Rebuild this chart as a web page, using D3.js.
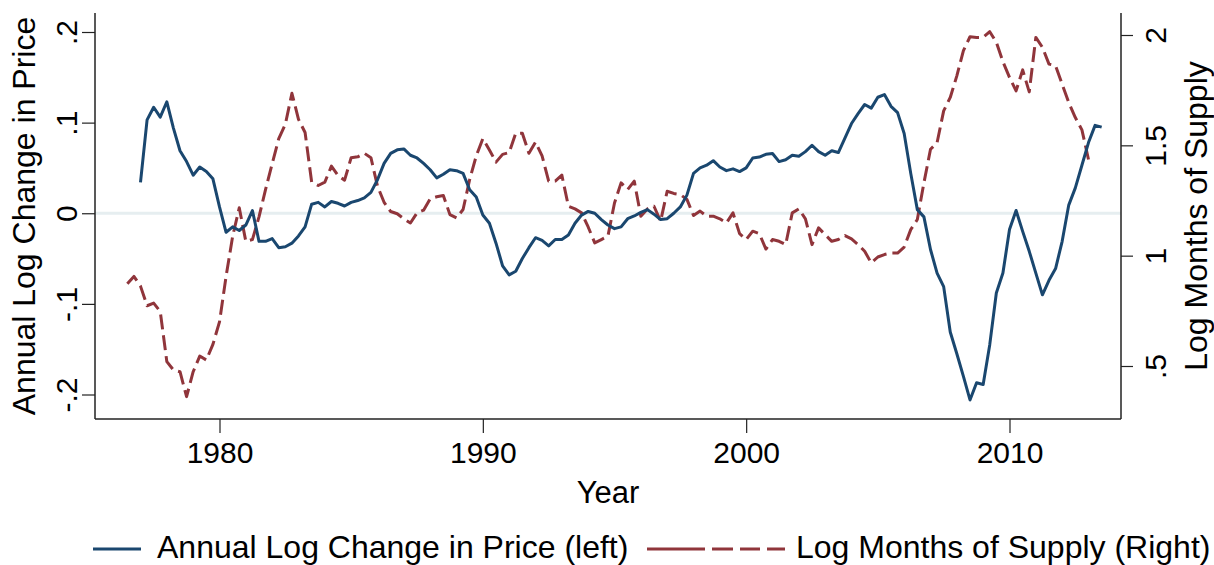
<!DOCTYPE html>
<html>
<head>
<meta charset="utf-8">
<script src="https://cdn.jsdelivr.net/npm/d3@7"></script>
<style>
  html, body { margin: 0; padding: 0; background: #fff; }
  svg { display: block; font-family: "Liberation Sans", Arial, sans-serif; }
</style>
</head>
<body>
<svg id="chart" width="1214" height="565"></svg>
<script>
// ---- Data (quarterly) ----
const priceStartYear = 1977.0;   // first quarter of the price series
const supplyStartYear = 1976.5;  // first quarter of the supply series

const priceChange = [
  0.034, 0.103, 0.117, 0.106,
  0.123, 0.094, 0.069, 0.057,
  0.042, 0.051, 0.046, 0.038,
  0.007, -0.021, -0.015, -0.019,
  -0.013, 0.003, -0.031, -0.031,
  -0.028, -0.038, -0.037, -0.033,
  -0.025, -0.015, 0.010, 0.012,
  0.007, 0.013, 0.011, 0.008,
  0.012, 0.014, 0.017, 0.023,
  0.037, 0.055, 0.066, 0.070,
  0.071, 0.064, 0.061, 0.055,
  0.048, 0.039, 0.043, 0.048,
  0.047, 0.044, 0.026, 0.018,
  -0.002, -0.011, -0.033, -0.058,
  -0.068, -0.064, -0.050, -0.038,
  -0.027, -0.030, -0.036, -0.029,
  -0.029, -0.024, -0.011, -0.002,
  0.002, 0.000, -0.007, -0.013,
  -0.017, -0.015, -0.006, -0.003,
  0.001, 0.004, -0.001, -0.007,
  -0.006, 0.000, 0.007, 0.020,
  0.044, 0.050, 0.053, 0.058,
  0.051, 0.047, 0.049, 0.046,
  0.050, 0.061, 0.062, 0.065,
  0.066, 0.057, 0.059, 0.064,
  0.063, 0.068, 0.075, 0.068,
  0.064, 0.069, 0.067, 0.083,
  0.099, 0.110, 0.120, 0.116,
  0.128, 0.131, 0.118, 0.111,
  0.088, 0.044, 0.004, -0.004,
  -0.040, -0.066, -0.081, -0.131,
  -0.155, -0.180, -0.206, -0.187,
  -0.189, -0.145, -0.088, -0.066,
  -0.018, 0.003, -0.020, -0.042,
  -0.066, -0.090, -0.074, -0.061,
  -0.031, 0.009, 0.028, 0.053,
  0.078, 0.097, 0.095
];

const logMonthsSupply = [
  0.873, 0.906,
  0.862, 0.773, 0.785, 0.747,
  0.520, 0.482, 0.474, 0.361,
  0.474, 0.545, 0.527, 0.598,
  0.700, 0.906, 1.088, 1.217,
  1.065, 1.073, 1.176, 1.300,
  1.417, 1.530, 1.595, 1.736,
  1.618, 1.558, 1.333, 1.318,
  1.333, 1.406, 1.364, 1.342,
  1.444, 1.448, 1.464, 1.444,
  1.315, 1.242, 1.200, 1.190,
  1.167, 1.148, 1.194, 1.206,
  1.258, 1.267, 1.273, 1.186,
  1.171, 1.209, 1.345, 1.452,
  1.530, 1.479, 1.424, 1.459,
  1.467, 1.555, 1.555, 1.464,
  1.515, 1.452, 1.338, 1.338,
  1.365, 1.224, 1.212, 1.194,
  1.130, 1.058, 1.073, 1.088,
  1.239, 1.330, 1.300, 1.338,
  1.179, 1.212, 1.224, 1.156,
  1.292, 1.282, 1.277, 1.255,
  1.182, 1.202, 1.179, 1.179,
  1.167, 1.148, 1.194, 1.100,
  1.073, 1.111, 1.100, 1.030,
  1.073, 1.065, 1.050, 1.194,
  1.212, 1.167, 1.050, 1.126,
  1.095, 1.065, 1.073, 1.091,
  1.076, 1.050, 1.020, 0.967,
  0.994, 1.005, 1.012, 1.012,
  1.039, 1.118, 1.164, 1.330,
  1.482, 1.512, 1.656, 1.717,
  1.815, 1.929, 1.992, 1.989,
  1.989, 2.015, 1.967, 1.879,
  1.808, 1.747, 1.842, 1.742,
  1.989, 1.944, 1.868, 1.861,
  1.777, 1.694, 1.626, 1.570,
  1.436
];

const xTickValues = [1980, 1990, 2000, 2010];
const xTickLabels = ["1980", "1990", "2000", "2010"];
const leftTickValues = [-0.2, -0.1, 0, 0.1, 0.2];
const leftTickLabels = ["-.2", "-.1", "0", ".1", ".2"];
const rightTickValues = [0.5, 1, 1.5, 2];
const rightTickLabels = [".5", "1", "1.5", "2"];
const seriesNames = ["Annual Log Change in Price (left)", "Log Months of Supply (Right)"];
const axisTitles = { x: "Year", left: "Annual Log Change in Price", right: "Log Months of Supply" };

// ---- Layout ----
const plotLeft = 95, plotRight = 1121, plotTop = 13, plotBottom = 419;
const BLUE = "#1a476f", RED = "#90353b";

const svg = d3.select("#chart");

const x = d3.scaleLinear().domain([1980, 2010]).range([219.5, 1009.5]);
const yL = d3.scaleLinear().domain([-0.2, 0.2]).range([394.5, 32]);
const yR = d3.scaleLinear().domain([0.5, 2]).range([366, 35]);

const priceData = priceChange.map((v, i) => ({ t: priceStartYear + i / 4, v }));
const supplyData = logMonthsSupply.map((v, i) => ({ t: supplyStartYear + i / 4, v }));

// zero reference line
svg.append("line")
  .attr("x1", plotLeft).attr("x2", plotRight)
  .attr("y1", yL(0)).attr("y2", yL(0))
  .attr("stroke", "#e6eef0").attr("stroke-width", 3);

// lines
const linePrice = d3.line().x(d => x(d.t)).y(d => yL(d.v));
const lineSupply = d3.line().x(d => x(d.t)).y(d => yR(d.v));

svg.append("path").datum(supplyData)
  .attr("d", lineSupply)
  .attr("fill", "none").attr("stroke", RED).attr("stroke-width", 3)
  .attr("stroke-dasharray", "15,6").attr("stroke-linejoin", "round");

svg.append("path").datum(priceData)
  .attr("d", linePrice)
  .attr("fill", "none").attr("stroke", BLUE).attr("stroke-width", 3)
  .attr("stroke-linejoin", "round");

// axes
const axisColor = "#222";
function styleAxis(g) {
  g.select(".domain").remove();
  g.selectAll(".tick line").attr("stroke", axisColor).attr("stroke-width", 1.2);
  g.selectAll(".tick text").attr("fill", "#000").attr("font-size", 30)
    .attr("font-family", "Liberation Sans, Arial, sans-serif");
}

const gx = svg.append("g").attr("transform", `translate(0,${plotBottom})`)
  .call(d3.axisBottom(x).tickValues(xTickValues).tickSize(14)
    .tickFormat((d, i) => xTickLabels[i]));
styleAxis(gx);
gx.selectAll(".tick text").attr("y", 44).attr("dy", 0);

const gl = svg.append("g").attr("transform", `translate(${plotLeft},0)`)
  .call(d3.axisLeft(yL).tickValues(leftTickValues).tickSize(13)
    .tickFormat((d, i) => leftTickLabels[i]));
styleAxis(gl);
gl.selectAll(".tick text").attr("x", null).attr("dy", null)
  .attr("text-anchor", "middle").attr("transform", "translate(-18,0) rotate(-90)");

const gr = svg.append("g").attr("transform", `translate(${plotRight},0)`)
  .call(d3.axisRight(yR).tickValues(rightTickValues).tickSize(12)
    .tickFormat((d, i) => rightTickLabels[i]));
styleAxis(gr);
gr.selectAll(".tick text").attr("x", null).attr("dy", null)
  .attr("text-anchor", "middle").attr("transform", "translate(45,0) rotate(-90)");

// axis lines
svg.append("line").attr("x1", plotLeft).attr("x2", plotLeft).attr("y1", plotTop).attr("y2", plotBottom)
  .attr("stroke", axisColor).attr("stroke-width", 1.5);
svg.append("line").attr("x1", plotRight).attr("x2", plotRight).attr("y1", plotTop).attr("y2", plotBottom)
  .attr("stroke", axisColor).attr("stroke-width", 1.5);
svg.append("line").attr("x1", plotLeft).attr("x2", plotRight).attr("y1", plotBottom).attr("y2", plotBottom)
  .attr("stroke", axisColor).attr("stroke-width", 1.5);

// axis titles
const midY = (plotTop + plotBottom) / 2;
svg.append("text").text(axisTitles.x)
  .attr("x", (plotLeft + plotRight) / 2).attr("y", 503)
  .attr("text-anchor", "middle").attr("font-size", 31).attr("fill", "#000");
svg.append("text").text(axisTitles.left)
  .attr("text-anchor", "middle").attr("font-size", 32).attr("fill", "#000")
  .attr("transform", `translate(35,${midY}) rotate(-90)`);
svg.append("text").text(axisTitles.right)
  .attr("text-anchor", "middle").attr("font-size", 32).attr("fill", "#000")
  .attr("transform", `translate(1207,${midY}) rotate(-90)`);

// legend
const legY = 549, legTextY = 558;
svg.append("line").attr("x1", 93).attr("x2", 141).attr("y1", legY).attr("y2", legY)
  .attr("stroke", BLUE).attr("stroke-width", 3);
svg.append("text").text(seriesNames[0]).attr("x", 157).attr("y", legTextY)
  .attr("font-size", 32).attr("fill", "#000");
svg.append("line").attr("x1", 647).attr("x2", 785).attr("y1", legY).attr("y2", legY)
  .attr("stroke", RED).attr("stroke-width", 3)
  .attr("stroke-dasharray", "58,7,21,7,20,7,18,7");
svg.append("text").text(seriesNames[1]).attr("x", 796).attr("y", legTextY)
  .attr("font-size", 32).attr("fill", "#000");
</script>
</body>
</html>
